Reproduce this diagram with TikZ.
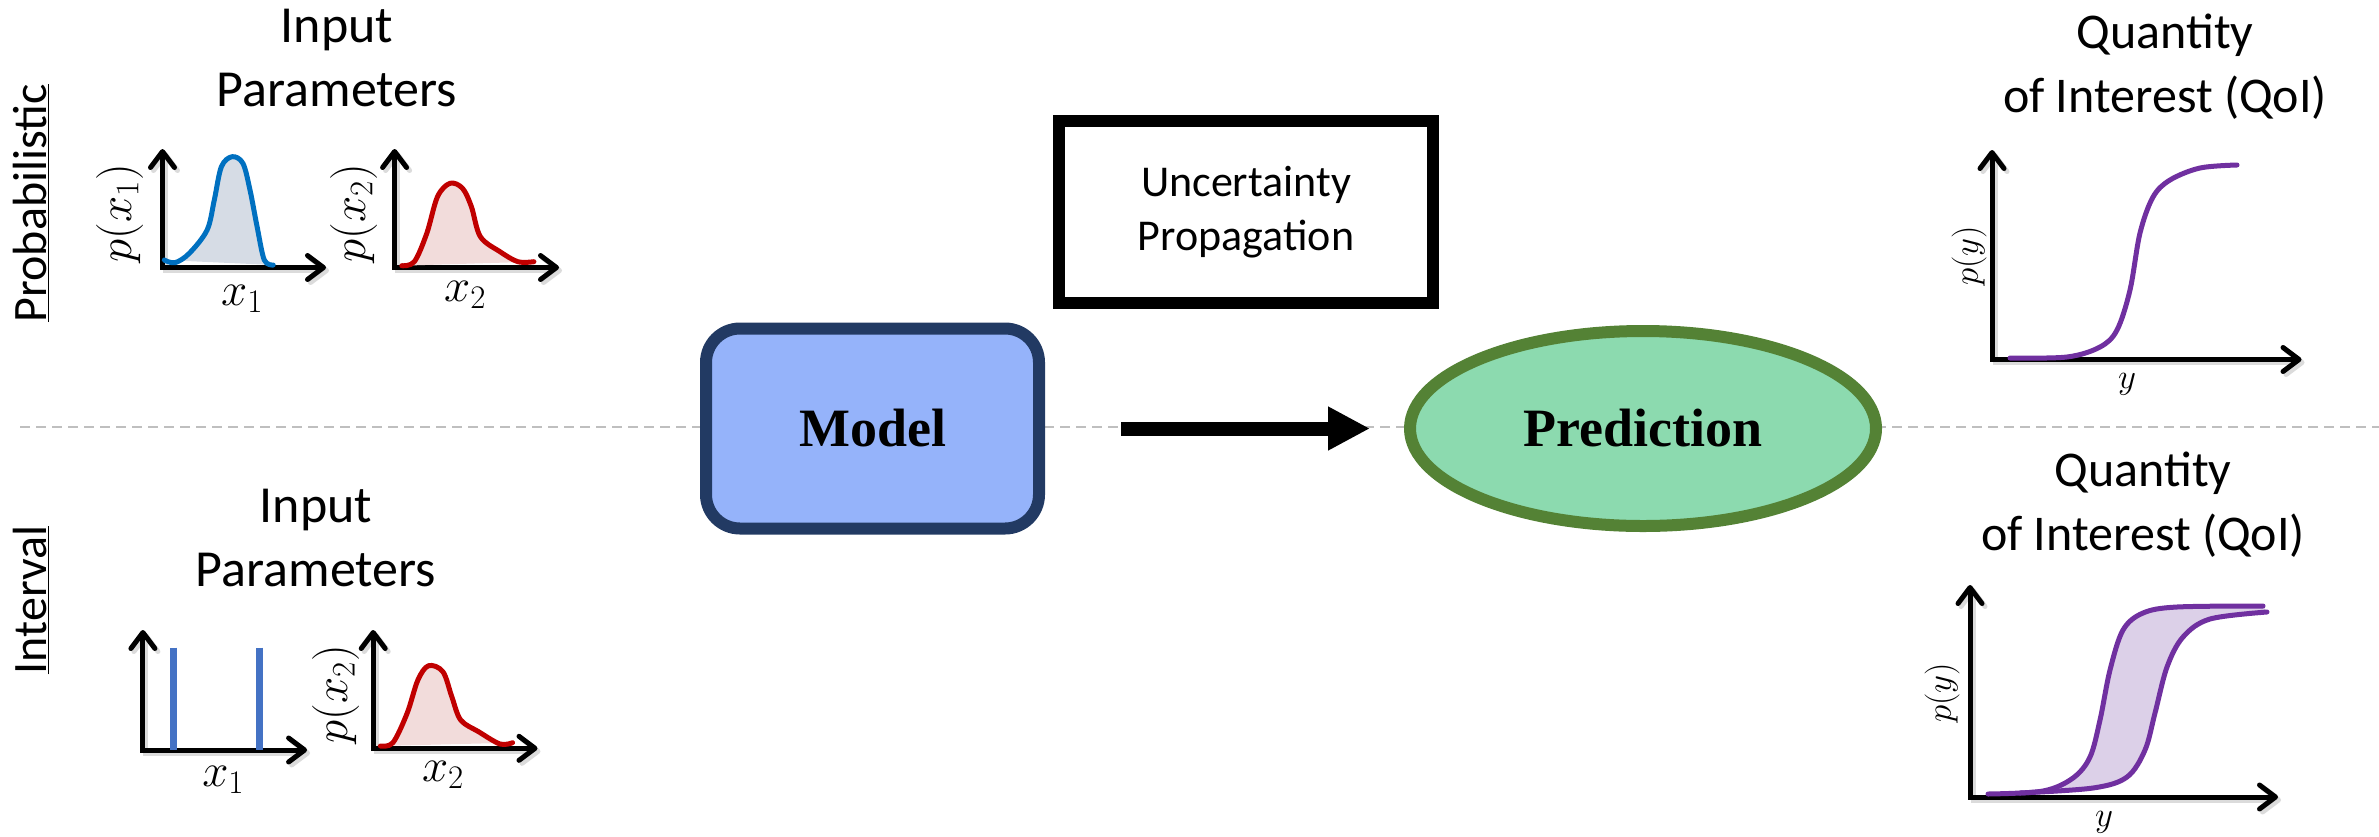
\RequirePackage{fix-cm}
\documentclass[tikz,border=0pt]{standalone}
\usepackage{fontspec}
\setmainfont{Carlito}
\newfontfamily\headfont{Liberation Serif}
\usetikzlibrary{arrows.meta,shapes.geometric}

\definecolor{curveblue}{HTML}{0070C0}
\definecolor{fillblue}{HTML}{D6DCE5}
\definecolor{curvered}{HTML}{C00000}
\definecolor{fillred}{HTML}{F2DCDB}
\definecolor{barblue}{HTML}{4472C4}
\definecolor{qoipurple}{HTML}{7030A0}
\definecolor{fillpurple}{HTML}{DCD0E8}
\definecolor{modelfill}{HTML}{95B3FA}
\definecolor{modeledge}{HTML}{223A63}
\definecolor{predfill}{HTML}{8CDAAF}
\definecolor{prededge}{HTML}{548235}
\definecolor{guide}{HTML}{BFBFBF}

\tikzset{
  axisline/.style={line width=5pt, line join=miter,
    {Straight Barb[length=16pt,width=24pt,round]}-{Straight Barb[length=16pt,width=24pt,round]}},
  axshadow/.style={axisline, black!14},
  pdfcurve/.style={line width=5pt, line cap=round, line join=round},
  % multi-line headings are placed by the baseline of their last line
  heading/.style={font=\fontsize{50}{64}\selectfont, align=center, anchor=base, inner sep=0pt},
  inheading/.style={heading, font=\fontsize{52}{64}\selectfont},
  sidetag/.style={font=\fontsize{48}{58}\selectfont, rotate=90, anchor=base, inner sep=0pt},
  mathlbl/.style={font=\fontsize{47}{56}\selectfont, inner sep=0pt},
  smalllbl/.style={font=\fontsize{35}{42}\selectfont, inner sep=0pt},
  modelbox/.style={draw=modeledge, fill=modelfill, line width=12pt, rounded corners=34pt,
    minimum width=333pt, minimum height=200pt, inner sep=0pt,
    font=\headfont\bfseries\fontsize{54}{60}\selectfont},
  predbox/.style={ellipse, draw=prededge, fill=predfill, line width=12pt,
    minimum width=466pt, minimum height=195pt, inner sep=0pt,
    font=\headfont\bfseries\fontsize{54}{60}\selectfont},
  propbox/.style={draw=black, line width=12pt, minimum width=374pt, minimum height=182pt,
    align=center, inner sep=0pt, font=\fontsize{44}{54}\selectfont},
  bigarrow/.style={line width=14pt, -{Triangle[length=42pt,width=41pt]}},
  guideline/.style={guide, line width=1.5pt, dash pattern=on 10pt off 6pt},
  intervalbar/.style={barblue, line width=7pt}
}

% a pair of plot axes with a faint drop shadow: #1 = x of the vertical axis,
% #2 = top of the vertical axis, #3 = level of the horizontal axis, #4 = right end
\newcommand\plotaxes[4]{%
  \draw[axshadow, shift={(3,3)}] (#1,#2) -- (#1,#3) -- (#4,#3);
  \draw[axisline] (#1,#2) -- (#1,#3) -- (#4,#3);
}

\begin{document}
\begin{tikzpicture}[x=1pt,y=-1pt]
\useasboundingbox (0,0) rectangle (2379,836);

% dashed separator between the two rows
\draw[guideline] (20,427) -- (2379,427);

% ---------------- probabilistic inputs ----------------
\node[sidetag] (probtag) at (46.4,203.3) {\underline{Probabilistic}};
\node[inheading] (probin) at (337,106.7) {Input\\Parameters};

\plotaxes{162.5}{149}{267.5}{326}
\draw[pdfcurve, curveblue, fill=fillblue] plot[smooth, tension=0.55] coordinates {
  (164.3,260) (175,262.7) (189.3,253.3) (207.1,230) (214.3,200) (221.4,166.7)
  (232.1,156.7) (242.9,163.3) (250,190) (257.1,226.7) (264.3,260) (273.2,265)};
\node[mathlbl, rotate=90] (px1) at (119.5,213.3) {$p(x_1)$};
\node[mathlbl, anchor=base] (x1) at (242,305) {$x_1$};

\plotaxes{394.6}{149}{267.5}{559}
\draw[pdfcurve, curvered, fill=fillred] plot[smooth, tension=0.55] coordinates {
  (401.8,265.7) (414.3,261.7) (426.8,233.3) (437.5,196.7) (450,183.3) (462.5,188.3)
  (471.4,206.7) (480.4,236.7) (500,251.7) (517.9,261.7) (533.9,261.7)};
\node[mathlbl, rotate=90] (px2) at (353.5,213.3) {$p(x_2)$};
\node[mathlbl, anchor=base] (x2) at (465,301.7) {$x_2$};

% ---------------- interval inputs ----------------
\node[sidetag] (inttag) at (46.4,600) {\underline{Interval}};
\node[inheading] (intin) at (316,586.7) {Input\\Parameters};

\plotaxes{142.9}{630}{750}{307.1}
\draw[intervalbar] (173.9,647.7) -- (173.9,750);
\draw[intervalbar] (259.6,647.7) -- (259.6,750);
\node[mathlbl, anchor=base] (ix1) at (223.2,786.7) {$x_1$};

\plotaxes{373.2}{630}{748.3}{537.5}
\draw[pdfcurve, curvered, fill=fillred] plot[smooth, tension=0.55] coordinates {
  (380.4,746) (392.9,742.7) (407.1,713.3) (417.9,680) (428.6,665.7) (442.9,671.7)
  (451.8,696.7) (460.7,720) (478.6,731.7) (500,744) (512.5,742.7)};
\node[mathlbl, rotate=90] (ipx2) at (335.7,694.2) {$p(x_2)$};
\node[mathlbl, anchor=base] (ix2) at (442.9,781.7) {$x_2$};

% ---------------- model and propagation ----------------
\node[propbox] (prop) at (1246,212) {Uncertainty\\Propagation};
\node[modelbox] (model) at (872.5,428.5) {Model};
\node[predbox] (pred) at (1643,428.5) {Prediction};
\draw[bigarrow, shorten <=76pt, shorten >=34pt] (model.east) -- (pred.west);

% ---------------- quantity of interest ----------------
\node[heading] (qoitop) at (2165,112) {Quantity\\of Interest (QoI)};
\plotaxes{1992}{150}{359.5}{2301.5}
\draw[pdfcurve, qoipurple] plot[smooth, tension=0.55] coordinates {
  (2010,358) (2067,357) (2100,347) (2117,330) (2130,290) (2140,233)
  (2153,197) (2170,180) (2200,168) (2237,165)};
\node[smalllbl, rotate=90] (py) at (1969,256) {$p(y)$};
\node[smalllbl, anchor=base] (yl) at (2127,388.5) {$y$};

\node[heading] (qoibot) at (2143,550) {Quantity\\of Interest (QoI)};
\plotaxes{1970}{585}{797}{2278}
\fill[fillpurple]
  plot[smooth, tension=0.55] coordinates {
    (1988,794) (2043,791) (2073,778) (2090,757) (2100,720) (2110,670)
    (2123,630) (2143,613) (2177,607) (2263,606)}
  -- plot[smooth, tension=0.55] coordinates {
    (2267,612) (2210,619) (2183,637) (2167,667) (2155,713) (2145,750)
    (2127,777) (2093,788) (2020,793)}
  -- cycle;
\draw[pdfcurve, qoipurple] plot[smooth, tension=0.55] coordinates {
  (1988,794) (2043,791) (2073,778) (2090,757) (2100,720) (2110,670)
  (2123,630) (2143,613) (2177,607) (2263,606)};
\draw[pdfcurve, qoipurple] plot[smooth, tension=0.55] coordinates {
  (2020,793) (2093,788) (2127,777) (2145,750) (2155,713) (2167,667)
  (2183,637) (2210,619) (2267,612)};
\node[smalllbl, rotate=90] (py2) at (1942,693) {$p(y)$};
\node[smalllbl, anchor=base] (yl2) at (2104,826) {$y$};
\end{tikzpicture}
\end{document}
